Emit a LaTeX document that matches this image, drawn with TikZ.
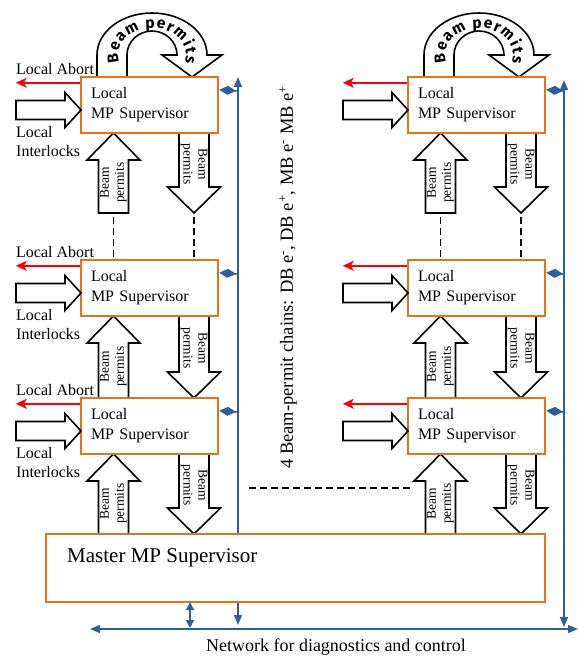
\documentclass[tikz,border=0pt]{standalone}
\usepackage{fontspec}
\setmainfont{Liberation Serif}
\newfontfamily\arcfont{Fira Sans}
\usepackage{tikz}
\usetikzlibrary{arrows.meta,calc,positioning,decorations.text}

\definecolor{boxorange}{RGB}{232,114,22}
\definecolor{busblue}{RGB}{46,94,158}

\tikzset{>={Triangle[width=8pt,length=10pt]}}
\tikzset{
	supbox/.style={draw=boxorange, line width=2.4pt, fill=white, minimum width=137pt, minimum height=56pt,
		text width=117pt, align=left, inner xsep=10pt, inner ysep=0pt, font=\fontsize{16}{20}\selectfont},
	masterbox/.style={draw=boxorange, line width=1.6pt, fill=white, minimum width=499pt, minimum height=68pt},
	blockarrow/.style={draw=black, line width=1.6pt, fill=white, line join=miter},
	permittext/.style={font=\fontsize{13.5}{15}\selectfont, align=center, inner sep=0pt},
	labeltext/.style={font=\fontsize{16}{19}\selectfont, inner sep=3pt},
	abortarrow/.style={draw=red, line width=1.5pt, -{Stealth[length=11pt,width=10pt,inset=3pt]}},
	busline/.style={draw=busblue, line width=1.5pt},
	buslink/.style={draw=busblue, line width=1.5pt, -{Diamond[length=17pt,width=9pt]}},
	chaindash/.style={line width=1.8pt, dash pattern=on 7pt off 4pt},
}

% block arrows: name, x, tail y, tip y
\newcommand{\upblock}[4]{%
	\draw[blockarrow] (#2-15,#3) -- (#2-15,#4+27) -- (#2-26.5,#4+27) -- (#2,#4)
		-- (#2+26.5,#4+27) -- (#2+15,#4+27) -- (#2+15,#3) -- cycle;
	\node[permittext,rotate=90] (#1) at (#2,{(#3+#4+27)/2-4}) {Beam\\permits};}
\newcommand{\downblock}[4]{%
	\draw[blockarrow] (#2-15,#3) -- (#2-15,#4-26) -- (#2-26.5,#4-26) -- (#2,#4)
		-- (#2+26.5,#4-26) -- (#2+15,#4-26) -- (#2+15,#3) -- cycle;
	\node[permittext,rotate=-90] (#1) at (#2,{(#3+#4-26)/2+4}) {Beam\\permits};}
% tail x, tip x, y
\newcommand{\rightblock}[3]{%
	\draw[blockarrow] (#1,#3-9.5) -- (#2-16,#3-9.5) -- (#2-16,#3-17.5) -- (#2,#3)
		-- (#2-16,#3+17.5) -- (#2-16,#3+9.5) -- (#1,#3+9.5) -- cycle;}

\begin{document}
\begin{tikzpicture}[x=1pt,y=-1pt]

	% Definitions.
	\tikzstyle{every node}=[inner sep=3pt]
	\def\ColShift{327}
	\def\BusX{238}
	\useasboundingbox (0,0) rectangle (578,657);

	% ---------- Diagnostics network ---------

	\coordinate (busLtop) at (\BusX,77);
	\coordinate (busLbot) at (\BusX,625);
	\coordinate (busRtop) at (564,80);
	\coordinate (busRbot) at (564,627);
	\coordinate (netW) at (90,629);
	\coordinate (netE) at (578,629);

	\draw[busline,<->] (busLtop) -- (busLbot);
	\draw[busline,<->] (busRtop) -- (busRbot);
	\draw[busline,<->] (netW) -- (netE);
	\node[labeltext,font=\fontsize{18}{20}\selectfont] (netlabel) at (336,647) {Network for diagnostics and control};

	% ------------ Two supervisor columns -----------

	\foreach \dx/\c in {0/L,\ColShift/R} {
	\begin{scope}[shift={(\dx,0)}]
		% U-turn beam permits.
		\draw[blockarrow] (97,77) -- (97,55)
			arc[start angle=180, end angle=0, x radius=55pt, y radius=42pt]
			-- (222,55) -- (192,77) -- (162,55) -- (177,55)
			arc[start angle=0, end angle=180, x radius=25pt, y radius=24pt]
			-- (127,77) -- cycle;
		\path[decorate, decoration={text along path, text align=fit to path,
			text={|\arcfont\bfseries\fontsize{15.5}{15.5}\selectfont|Beam permits}}]
			([shift={(152,55)}]196:34pt and 27pt)
			arc[start angle=196, end angle=-16, x radius=34pt, y radius=27pt];

		% Permit chain.
		\upblock{\c u1}{113.5}{213}{133}
		\downblock{\c d1}{194}{133}{213}
		\draw[chaindash] (113.5,217) -- (113.5,258);
		\draw[chaindash] (194,217) -- (194,258);
		\upblock{\c u2}{113.5}{398}{316}
		\downblock{\c d2}{194}{316}{398}
		\upblock{\c u3}{113.5}{534}{454}
		\downblock{\c d3}{194}{454}{534}

		% Supervisors.
		\node[supbox] (\c1) at (149.5,105) {Local\\MP Supervisor};
		\node[supbox] (\c2) at (149.5,288) {Local\\MP Supervisor};
		\node[supbox] (\c3) at (149.5,426) {Local\\MP Supervisor};

		\foreach \r/\t in {1/77,2/260,3/398} {
			\rightblock{16}{81}{\t+33}
			\draw[abortarrow] ([yshift=-7pt]\c\r.north west) -- ++(-64,0);
			\draw[buslink] (\BusX,\t+14) -- ([yshift=-14pt]\c\r.north east);
		}
	\end{scope}
	}

	% Labels of the first column.
	\foreach \r/\t in {1/77,2/260,3/398} {
		\node[labeltext,anchor=west] (abort\r) at (13,\t-8) {Local Abort};
		\node[labeltext,anchor=west,align=left] (ilk\r) at (13,\t+64.5) {Local\\Interlocks};
	}

	\draw[chaindash] (249,488) -- (411,488);
	\node[labeltext,font=\fontsize{18.5}{20}\selectfont,rotate=90] (chains) at (288,277)
		{4 Beam-permit chains: DB e\textsuperscript{-}, DB e\textsuperscript{+}, MB e\textsuperscript{-} MB e\textsuperscript{+}};

	% ================== MASTER ==================

	\node[masterbox] (master) at (295.5,568) {};
	\node[anchor=west,font=\fontsize{21}{25}\selectfont] (mastertext) at (64,558) {Master MP Supervisor};
	\draw[busline,{Triangle[width=8pt,length=8pt]}-{Triangle[width=8pt,length=8pt]}] (190,602) -- (190,628);

\end{tikzpicture}
\end{document}
